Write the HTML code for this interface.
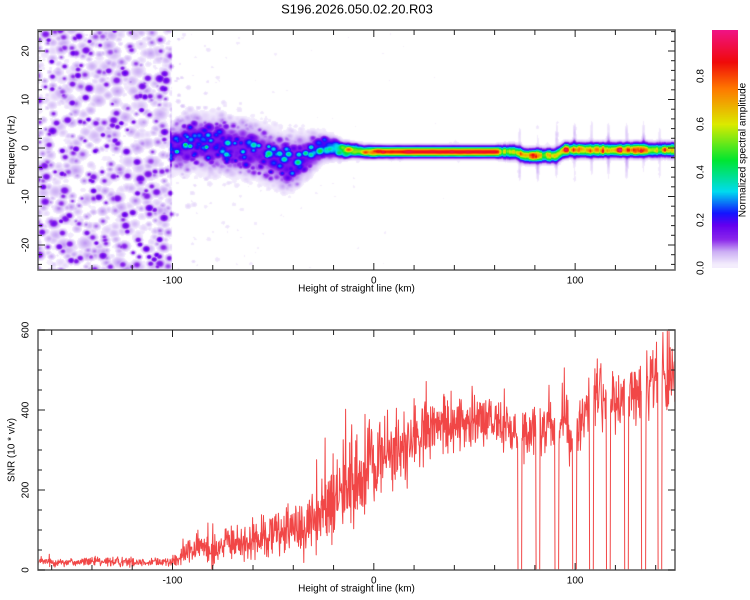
<!DOCTYPE html>
<html><head><meta charset="utf-8">
<style>
html,body{margin:0;padding:0;background:#fff;}
#wrap{position:relative;width:750px;height:600px;overflow:hidden;font-family:"Liberation Sans",sans-serif;}
canvas,svg{position:absolute;left:0;top:0;}
</style></head>
<body>
<div id="wrap">
<canvas id="hm" width="637" height="240" style="left:38px;top:30px"></canvas>
<canvas id="cb" width="26" height="238" style="left:712px;top:30px"></canvas>
<svg id="svg" width="750" height="600"></svg>
</div>
<script>
// ---------- data ----------
const trackKm   = [-100,-95,-90,-85,-80,-75,-70,-65,-60,-55,-50,-45,-40,-35,-30,-25,-20,-15,-10,-5,0,5,10,20,30,40,50,60,65,70,75,80,85,90,95,100,110,120,130,140,150];
const trackFreq = [0,0.5,1.5,1,0.5,1,0,0,-0.5,-1,-2,-3,-3,-2,-1,0,0,-0.5,-0.5,-0.8,-0.8,-0.8,-0.8,-0.8,-0.8,-0.8,-0.8,-0.8,-0.8,-0.8,-1.6,-1.6,-1.6,-1.6,-0.4,-0.4,-0.4,-0.4,-0.4,-0.4,-0.4];
const trackAmp  = [0.32,0.34,0.36,0.34,0.34,0.34,0.32,0.32,0.31,0.31,0.32,0.34,0.34,0.34,0.36,0.42,0.55,0.65,0.7,0.8,0.85,0.9,0.9,0.92,0.92,0.92,0.92,0.92,0.85,0.85,0.88,0.9,0.88,0.88,0.9,0.9,0.92,0.92,0.92,0.9,0.88];
const trackWidth= [2.5,3,3,3,3,3,3,3,3,3,3,3,3,2.5,2,1.5,1.2,0.9,0.8,0.7,0.7,0.65,0.65,0.65,0.65,0.65,0.65,0.65,0.8,0.8,0.8,0.8,0.8,0.8,0.8,0.8,0.8,0.8,0.8,0.8,0.8];
const trackRough= [0.9,0.9,0.9,0.9,0.9,0.9,0.9,0.9,0.9,0.9,0.9,0.9,0.9,0.9,0.85,0.8,0.7,0.6,0.5,0.4,0.3,0.15,0.1,0.05,0.05,0.05,0.05,0.05,0.3,0.3,0.3,0.3,0.3,0.3,0.3,0.3,0.3,0.3,0.3,0.3,0.3];
const noiseKm   = [-167,-101,-99,-90,-60,150];
const noiseLvl  = [0.2,0.2,0.06,0.035,0.02,0.012];
const snrKm  = [-167,-150,-130,-110,-97,-95,-90,-85,-80,-75,-70,-65,-60,-55,-50,-45,-40,-35,-30,-25,-20,-15,-10,-5,0,5,10,15,20,25,30,35,40,45,50,55,60,65,70,75,80,85,90,95,98,102,105,110,115,120,125,130,135,140,145,150];
const snrVal = [20,20,20,20,22,40,50,55,60,62,65,70,72,80,90,100,105,115,125,150,175,195,215,240,260,280,295,310,320,335,350,360,365,370,370,370,370,360,350,340,345,355,365,380,300,370,400,430,430,420,435,440,450,460,480,490];
const snrJitKm = [-167,-97,-90,-20,0,30,150];
const snrJit   = [0.4,0.4,0.5,0.45,0.3,0.14,0.13];
const dropKm = [72.5,81.4,90.8,99.7,108.2,116.6,125.6,134.0,142.0];
const xTicksMajor = [-100,0,100];
const yTicksTop = [-20,-10,0,10,20];
const yTicksBot = [0,200,400,600];
const cbTicks = [0.0,0.2,0.4,0.6,0.8];

// ---------- scales ----------
const L=38,R=675,T1=30,B1=270,T2=330,B2=570;
const KM0=-166.8,KM1=149.6;
const xs = km => L + (km-KM0)*(R-L)/(KM1-KM0);
const xinv = px => KM0 + (px-L)*(KM1-KM0)/(R-L);
const fy = f => 148 - f*4.85;
const finv = py => (148-py)/4.85;
const sy = v => B2 - v*0.4;

function interp(xa,ya,x){
  if(x<=xa[0]) return ya[0];
  for(let i=1;i<xa.length;i++){ if(x<=xa[i]){const t=(x-xa[i-1])/(xa[i]-xa[i-1]);return ya[i-1]+t*(ya[i]-ya[i-1]);} }
  return ya[ya.length-1];
}
function hash(i,j,s){let h=Math.imul(i+1013,0x27d4eb2d)^Math.imul(j+7919,0x165667b1)^Math.imul(s+7,0x9e3779b1);
  h=Math.imul(h^(h>>>15),0x85ebca6b);h=Math.imul(h^(h>>>13),0xc2b2ae35);h^=h>>>16;return (h>>>0)/4294967296;}

function splatField(W,H,cell,sMin,sMax,pow,seed){
  const F=new Float32Array(W*H);
  for(let gy=-1;gy<=H/cell+1;gy++)for(let gx=-1;gx<=W/cell+1;gx++){
    const cx=(gx+hash(gx,gy,seed))*cell, cy=(gy+hash(gx,gy,seed+1))*cell;
    const s=sMin+(sMax-sMin)*hash(gx,gy,seed+2);
    const a=Math.pow(hash(gx,gy,seed+3),pow);
    const rr=Math.ceil(s*2.5);
    for(let y=Math.max(0,Math.floor(cy-rr));y<=Math.min(H-1,cy+rr);y++)
      for(let x=Math.max(0,Math.floor(cx-rr));x<=Math.min(W-1,cx+rr);x++){
        const dx=(x-cx)/s,dy=(y-cy)/(s*0.85);const g=a*Math.exp(-(dx*dx+dy*dy)/2);
        const k=y*W+x; if(g>F[k]) F[k]=g;
      }
  }
  return F;
}

const cstops=[[0,[255,255,255]],[0.025,[238,228,252]],[0.07,[205,175,245]],[0.12,[140,40,235]],[0.18,[100,0,240]],[0.23,[20,20,255]],[0.32,[0,220,240]],[0.45,[0,230,50]],[0.6,[220,235,0]],[0.75,[255,120,0]],[0.86,[240,10,10]],[1.0,[240,20,140]]];
function cmap(v){
  if(v<=0.015) return [255,255,255];
  for(let i=1;i<cstops.length;i++){ if(v<=cstops[i][0]){const a=cstops[i-1],b=cstops[i];const t=(v-a[0])/(b[0]-a[0]);
    return [a[1][0]+t*(b[1][0]-a[1][0]),a[1][1]+t*(b[1][1]-a[1][1]),a[1][2]+t*(b[1][2]-a[1][2])];}}
  return cstops[cstops.length-1][1];
}

// ---------- heatmap ----------
(function(){
  const c=document.getElementById('hm'),ctx=c.getContext('2d');const W=637,H=240;
  const img=ctx.createImageData(W,H);
  const F1=splatField(W,H,6,1.8,3.6,2.2,11);
  const F2=splatField(W,H,9,3,6.5,1.0,21);
  const F3=splatField(W,H,5,1.6,3.2,1.8,31);
  for(let py=0;py<H;py++){
    const f=finv(py+T1+0.5);
    for(let px=0;px<W;px++){
      const km=xinv(px+L+0.5);const k=py*W+px;
      const nl=interp(noiseKm,noiseLvl,km);
      let v = nl*Math.max(F1[k], 0.55*Math.max(0,F2[k]-0.25));
      if(km>-100) v = nl*Math.max(0,F1[k]-0.35)*1.5;
      if(km>=-101){
        const fc=interp(trackKm,trackFreq,km),a=interp(trackKm,trackAmp,km),w=interp(trackKm,trackWidth,km),r=interp(trackKm,trackRough,km);
        const d=(f-fc)/w;const g=Math.exp(-d*d/2);
        const tex = (1-r) + r*(0.35+1.1*F3[k]);
        const tx = km>62 ? (0.6+0.35*hash(Math.floor(km/2.2),0,7)+0.2*hash(Math.floor(km/1.4),1,8)) : 1;
        v+=a*g*tex*Math.min(1.1,tx);
        for(const dk of dropKm){const e=(km-dk)/0.6;const gg=Math.exp(-e*e/2);
          if(gg>0.01){const q=(f-fc)/3.5;v+=0.08*gg*Math.exp(-q*q/2)*(0.3+F2[k]);}}
      }
      v=Math.min(1,v);
      const col=cmap(v);const o=k*4;
      img.data[o]=col[0];img.data[o+1]=col[1];img.data[o+2]=col[2];img.data[o+3]=255;
    }
  }
  ctx.putImageData(img,0,0);
  const cb=document.getElementById('cb').getContext('2d');
  for(let y=0;y<238;y++){const v=(268-(y+30))/240;const col=cmap(Math.max(0.016,v));cb.fillStyle=`rgb(${col[0]|0},${col[1]|0},${col[2]|0})`;cb.fillRect(0,y,26,1);}
})();

// ---------- SVG ----------
const svg=document.getElementById('svg');const NS='http://www.w3.org/2000/svg';
function mk(tag,attrs,parent){const e=document.createElementNS(NS,tag);for(const k in attrs)e.setAttribute(k,attrs[k]);(parent||svg).appendChild(e);return e;}
function txt(s,x,y,size,rot,name){const e=mk('text',{x:x,y:y,'font-size':size,'text-anchor':'middle','font-family':'Liberation Sans, sans-serif',fill:'#000','dominant-baseline':'middle'});
  if(rot) e.setAttribute('transform',`rotate(-90 ${x} ${y})`);e.textContent=s;
  
  
  return e;}

(function(){
  let seed=12345;function rnd(){seed=(seed*1664525+1013904223)>>>0;return seed/4294967296;}
  function gauss(){return (rnd()+rnd()+rnd()-1.5)*1.4;}
  let d='';const step=0.2;
  for(let km=KM0;km<=KM1;km+=step){
    const base=interp(snrKm,snrVal,km);
    const j=interp(snrJitKm,snrJit,km);
    let v=base*(1+j*gauss());
    if(rnd()<0.07) v+=base*j*1.6*rnd();
    for(const dk of dropKm){ if(Math.abs(km-dk)<=1.0) v=0; }
    v=Math.max(0,Math.min(600,v));
    d+=(d?'L':'M')+xs(km).toFixed(1)+' '+sy(v).toFixed(1);
  }
  const p=mk('path',{d:d,fill:'none',stroke:'#f03333','stroke-width':1,'stroke-opacity':0.9,'stroke-linejoin':'round'});
  
  
})();

function frame(top,bot,name){
  const r=mk('rect',{x:L,y:top,width:R-L,height:bot-top,fill:'none',stroke:'#666','stroke-width':1.6});
  
  
  for(let km=-160;km<=140;km+=20){const x=xs(km);const maj=xTicksMajor.includes(km);const l=maj?7:5;
    mk('line',{x1:x,y1:bot,x2:x,y2:bot-l,stroke:'#222','stroke-width':1});
    mk('line',{x1:x,y1:top,x2:x,y2:top+l,stroke:'#222','stroke-width':1});}
  for(const km of xTicksMajor){txt(String(km),xs(km),bot+11,10,false,'x-tick-label');}
  txt('Height of straight line (km)',(L+R)/2,bot+19,10,false,'x-axis-title');
}
frame(T1,B1,'spectrogram-frame');
frame(T2,B2,'snr-frame');
for(let f=-24;f<=24;f+=2){const y=fy(f);const maj=f%10===0;const l=maj?7:4;
  mk('line',{x1:L,y1:y,x2:L+l,y2:y,stroke:'#222'});mk('line',{x1:R,y1:y,x2:R-l,y2:y,stroke:'#222'});}
for(const f of yTicksTop) txt(String(f),26,fy(f),10,true,'y-tick-label');
txt('Frequency (Hz)',12,150,10,true,'y-axis-title');
for(let v=0;v<=600;v+=50){const y=sy(v);const maj=v%200===0;const l=maj?7:4;
  mk('line',{x1:L,y1:y,x2:L+l,y2:y,stroke:'#222'});mk('line',{x1:R,y1:y,x2:R-l,y2:y,stroke:'#222'});}
for(const v of yTicksBot) txt(String(v),26,sy(v),10,true,'y-tick-label');
txt('SNR (10 * v/v)',12,450,10,true,'y-axis-title');
for(const t of cbTicks) txt(t.toFixed(1),701,268-t*240,10,true,'colorbar-tick-label');
txt('Normalized spectral amplitude',743,150,10,true,'colorbar-title');
txt('S196.2026.050.02.20.R03',357,10,13,false,'chart-title');
</script>
</body></html>
